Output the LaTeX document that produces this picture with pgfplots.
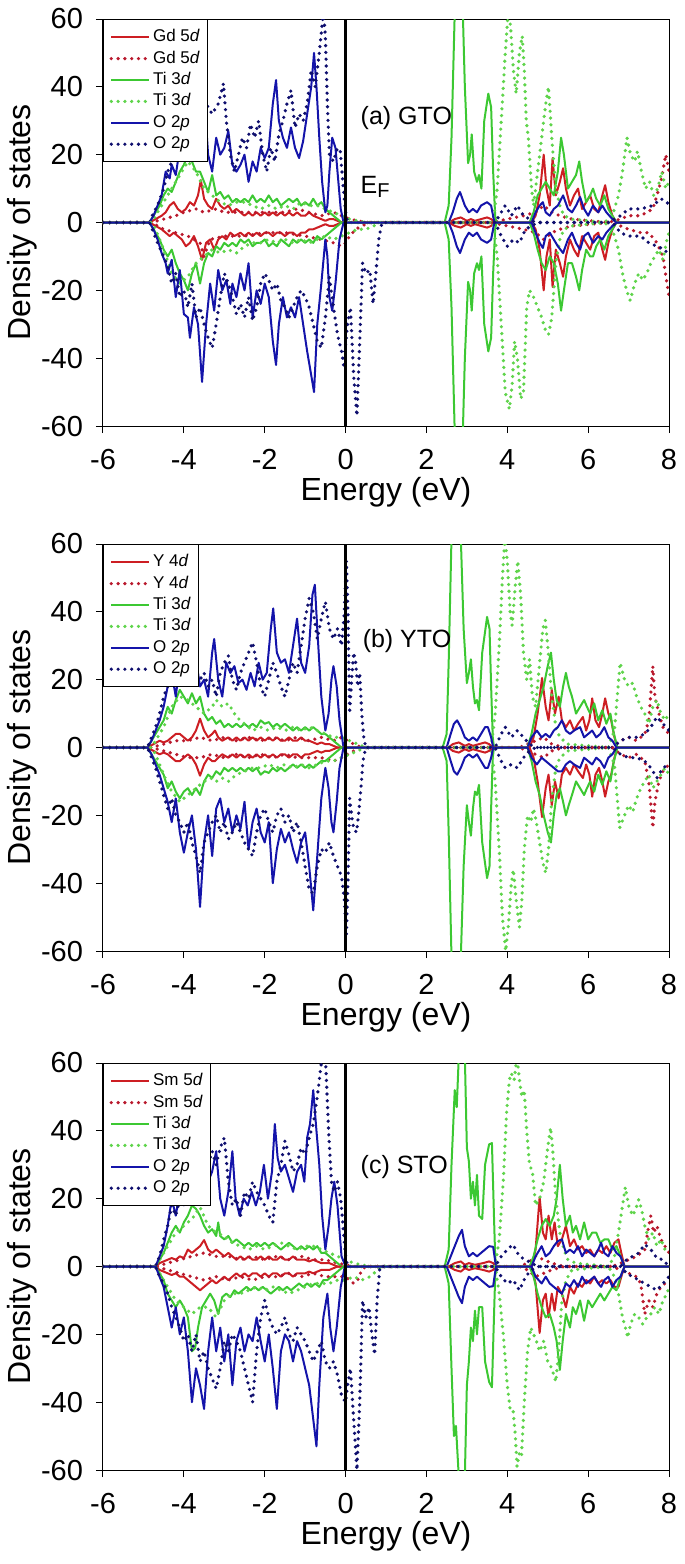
\documentclass[border=0pt]{standalone}
\usepackage{fontspec}
\setmainfont{Liberation Sans}
\usepackage{pgfplots}
\pgfplotsset{compat=1.18}

\definecolor{rsol}{RGB}{205,30,35}
\definecolor{rdot}{RGB}{185,25,45}
\definecolor{gsol}{RGB}{60,200,50}
\definecolor{gdot}{RGB}{95,212,75}
\definecolor{bsol}{RGB}{20,20,170}
\definecolor{bdot}{RGB}{15,15,110}

\tikzset{
  solidc/.style={line width=1pt, line join=round},
  dotc/.style={line width=1.8pt, line cap=round, dash pattern=on 0pt off 3.4pt},
}

\pgfplotsset{
  dos/.style={
    width=283pt, height=203.5pt, scale only axis,
    xmin=-6, xmax=8, ymin=-60, ymax=60,
    xtick={-6,-4,-2,0,2,4,6,8}, ytick={-60,-40,-20,0,20,40,60},
    xticklabels={-6,-4,-2,0,2,4,6,8}, yticklabels={-60,-40,-20,0,20,40,60},
    tick align=outside, xtick pos=left, ytick pos=left,
    major tick length=3.5pt,
    tick style={black, line width=0.5pt},
    axis line style={black, line width=0.5pt},
    ticklabel style={font=\fontsize{14.5}{16}\selectfont},
    xticklabel style={yshift=-4.5pt},
    yticklabel style={xshift=-3pt},
    xlabel={Energy (eV)}, ylabel={Density of states},
    label style={font=\fontsize{16}{19}\selectfont},
    xlabel style={at={(axis description cs:0.5,-0.162)}, anchor=center},
    ylabel style={at={(axis description cs:-0.143,0.5)}, anchor=center},
    legend cell align=left,
    legend style={at={(0,1)}, anchor=north west, draw=black, line width=0.5pt,
      fill=white, font=\fontsize{8.5}{10}\selectfont,
      inner xsep=3pt, inner ysep=3.5pt, row sep=0pt,
      nodes={inner sep=1pt, text height=6.6pt, text depth=2.1pt}},
    legend image code/.code={\draw[##1] (0pt,0pt) -- (19pt,0pt);},
  },
}

\begin{document}
\begin{tikzpicture}

% ---------------- (a) GTO ----------------
\begin{axis}[dos, at={(0,0)}, anchor=north west]
\addplot[rsol, solidc] coordinates {(-6,0) (-4.85,0) (-4.7,1) (-4.55,2) (-4.45,3) (-4.35,5) (-4.25,6) (-4.15,4) (-4.05,3) (-3.95,4) (-3.85,6) (-3.75,5) (-3.65,8) (-3.58,12.5) (-3.5,7) (-3.4,5) (-3.3,4) (-3.2,7) (-3.1,5) (-3,4) (-2.9,5) (-2.8,3) (-2.7,4) (-2.6,3) (-2.5,2) (-2.4,3) (-2.3,2) (-2.2,3) (-2.1,2) (-2,3) (-1.9,2) (-1.8,3) (-1.7,2) (-1.6,3) (-1.5,2) (-1.4,3) (-1.3,2) (-1.2,3) (-1.1,2) (-1,2) (-0.9,3) (-0.8,2) (-0.7,1.5) (-0.6,1) (-0.5,0.5) (-0.4,1) (-0.3,1) (-0.2,0.5) (-0.1,0) (2.55,0) (2.7,1) (2.85,1.5) (3,0.5) (3.1,1) (3.2,0.5) (3.35,1) (3.5,1.5) (3.6,1) (3.7,0) (4.6,0) (4.7,2) (4.8,8) (4.9,20) (4.97,10) (5.05,5) (5.12,19) (5.2,8) (5.3,12) (5.38,16) (5.45,10) (5.55,5) (5.65,8) (5.75,10) (5.85,4) (5.95,6) (6.05,8) (6.15,4) (6.25,3) (6.35,8) (6.42,11) (6.5,6) (6.6,2) (6.7,0) (8,0)};
\addlegendentry{Gd 5\textit{d}}
\addplot[rdot, dotc] coordinates {(-6,0) (-4.8,0) (-4.5,1) (-4.2,2) (-4,3) (-3.7,4) (-3.5,3) (-3.2,4) (-3,3) (-2.5,3) (-2,3) (-1.5,3) (-1.2,4) (-0.9,3) (-0.6,2) (-0.3,3) (-0.1,2) (0.1,1) (0.3,0.5) (0.5,0) (3.6,0) (4,1) (4.4,2) (4.7,3) (4.9,5) (5.1,3) (5.3,2) (5.6,1) (6.5,0) (6.8,1) (7,2) (7.3,2) (7.6,4) (7.8,12) (7.92,20) (8,15)};
\addlegendentry{Gd 5\textit{d}}
\addplot[gsol, solidc] coordinates {(-6,0) (-4.85,0) (-4.7,3) (-4.6,5) (-4.5,8) (-4.4,10) (-4.3,9) (-4.2,12) (-4.1,15) (-4,17) (-3.9,20) (-3.8,18) (-3.7,15) (-3.6,15) (-3.5,12) (-3.4,9) (-3.3,14) (-3.2,8) (-3.1,9) (-3,7) (-2.9,8) (-2.8,6) (-2.7,7) (-2.6,6) (-2.5,7) (-2.4,6) (-2.3,8) (-2.2,6) (-2.1,7) (-2,6) (-1.9,8) (-1.8,6) (-1.7,7) (-1.6,5) (-1.5,6) (-1.4,7) (-1.3,6) (-1.2,7) (-1.1,5) (-1,6) (-0.9,5) (-0.8,7) (-0.7,5) (-0.6,6) (-0.5,4) (-0.4,3) (-0.3,2) (-0.2,1) (-0.1,0) (2.45,0) (2.55,5) (2.62,25) (2.7,62) (2.8,75) (2.9,62) (2.95,40) (3.03,17.5) (3.08,20) (3.12,26) (3.18,15) (3.25,12) (3.3,14) (3.36,10) (3.43,30) (3.53,38) (3.6,34) (3.65,15) (3.7,2) (3.73,0) (4.55,0) (4.65,3) (4.75,8) (4.85,10) (4.95,12) (5.05,10) (5.15,8) (5.25,15) (5.33,25) (5.4,20) (5.5,10) (5.6,12) (5.7,14) (5.78,18) (5.85,12) (5.95,6) (6.05,8) (6.12,10) (6.2,7) (6.3,5) (6.4,8) (6.5,4) (6.6,2) (6.7,0) (8,0)};
\addlegendentry{Ti 3\textit{d}}
\addplot[gdot, dotc] coordinates {(-6,0) (-4.8,0) (-4.7,2) (-4.5,6) (-4.3,10) (-4.1,14) (-3.9,18) (-3.7,15) (-3.5,10) (-3.3,8) (-3.1,6) (-2.9,5) (-2.7,6) (-2.5,6) (-2.3,5) (-2.1,4) (-1.9,5) (-1.7,4) (-1.5,5) (-1.3,4) (-1.1,6) (-0.9,5) (-0.7,5) (-0.5,4) (-0.3,3) (-0.1,2) (0.1,1) (0.3,0.5) (0.5,0) (3.65,0) (3.75,10) (3.85,30) (3.95,50) (4.02,62) (4.08,58) (4.15,45) (4.22,38) (4.3,50) (4.37,55) (4.42,45) (4.47,30) (4.52,25) (4.6,10) (4.65,5) (4.75,15) (4.85,25) (4.95,35) (5.02,40) (5.1,25) (5.2,10) (5.3,5) (5.4,2) (5.6,1) (6.4,0) (6.6,2) (6.75,8) (6.85,15) (6.96,25) (7.05,20) (7.15,18) (7.22,21) (7.32,15) (7.42,10) (7.52,12) (7.62,8) (7.72,10) (7.82,15) (7.92,10) (8,12)};
\addlegendentry{Ti 3\textit{d}}
\addplot[bsol, solidc] coordinates {(-6,0) (-4.85,0) (-4.75,2) (-4.65,5) (-4.55,8) (-4.45,15) (-4.35,13) (-4.3,17) (-4.2,14) (-4.1,22) (-4,25) (-3.9,30) (-3.8,25) (-3.7,35) (-3.6,28) (-3.5,38) (-3.4,20) (-3.3,15) (-3.2,25) (-3.1,20) (-3,22) (-2.9,27) (-2.8,17) (-2.7,15) (-2.6,17) (-2.5,20) (-2.4,12) (-2.3,18) (-2.2,15) (-2.1,22) (-2,19) (-1.9,22) (-1.8,35) (-1.72,42) (-1.65,30) (-1.55,25) (-1.45,22) (-1.35,28) (-1.25,22) (-1.15,19) (-1.05,24) (-0.95,32) (-0.85,40) (-0.78,50) (-0.72,40) (-0.65,25) (-0.58,12) (-0.5,3) (-0.45,5) (-0.4,15) (-0.33,25) (-0.25,22) (-0.2,15) (-0.12,4) (-0.05,0) (2.55,0) (2.65,3) (2.75,7) (2.83,9) (2.95,5) (3.05,3) (3.15,4) (3.25,3) (3.35,5) (3.5,6) (3.6,5) (3.68,0) (4.6,0) (4.7,3) (4.8,5) (4.88,6) (4.95,3) (5.05,2) (5.15,4) (5.25,5) (5.38,8) (5.5,4) (5.6,3) (5.7,5) (5.8,7.5) (5.9,4) (6,2) (6.12,5) (6.25,3) (6.35,5) (6.45,3) (6.6,1) (6.7,0) (8,0)};
\addlegendentry{O 2\textit{p}}
\addplot[bdot, dotc] coordinates {(-6,0) (-4.85,0) (-4.75,3) (-4.65,5) (-4.5,10) (-4.4,15) (-4.3,18) (-4.2,20) (-4.1,25) (-3.95,24) (-3.8,28) (-3.6,30) (-3.45,35) (-3.3,32) (-3.15,35) (-3.02,41) (-2.95,30) (-2.85,20) (-2.75,15) (-2.65,20) (-2.55,25) (-2.45,22) (-2.35,29) (-2.25,25) (-2.15,30) (-2.05,20) (-1.95,15) (-1.85,22) (-1.75,18) (-1.65,26) (-1.55,30) (-1.45,35) (-1.35,39) (-1.25,28) (-1.15,32) (-1.05,30) (-0.95,35) (-0.85,45) (-0.75,40) (-0.65,50) (-0.55,62) (-0.5,55) (-0.45,35) (-0.4,20) (-0.3,18) (-0.2,22) (-0.13,21) (-0.07,12) (0,3) (0.05,0) (3.7,0) (3.85,3) (3.95,5) (4.1,2) (4.25,5) (4.4,2) (4.55,1) (4.7,0) (6.5,0) (6.8,2) (7,4) (7.3,4) (7.6,5) (7.8,7) (7.95,6) (8,5)};
\addlegendentry{O 2\textit{p}}
% spin down
\addplot[rsol, solidc, forget plot] coordinates {(-6,0) (-4.85,0) (-4.7,-1) (-4.55,-2) (-4.45,-3) (-4.35,-4) (-4.25,-3) (-4.15,-4) (-4.05,-5) (-3.95,-7) (-3.85,-6) (-3.75,-4) (-3.65,-7) (-3.55,-11) (-3.45,-6) (-3.35,-5) (-3.25,-8) (-3.15,-5) (-3.05,-4) (-2.95,-5) (-2.85,-3) (-2.75,-4) (-2.6,-3) (-2.5,-4) (-2.4,-3) (-2.3,-4) (-2.2,-3) (-2.1,-4) (-2,-3) (-1.9,-3) (-1.8,-4) (-1.7,-3) (-1.6,-3) (-1.5,-4) (-1.4,-3) (-1.3,-3) (-1.2,-4) (-1.1,-3) (-1,-3) (-0.9,-2) (-0.8,-2) (-0.7,-1.5) (-0.6,-1) (-0.5,-0.5) (-0.4,-1) (-0.3,-1) (-0.2,-0.5) (-0.1,0) (2.55,0) (2.7,-1) (2.85,-1.5) (3,-0.5) (3.1,-1) (3.2,-0.5) (3.35,-1) (3.5,-1.5) (3.6,-1) (3.7,0) (4.6,0) (4.7,-2) (4.8,-8) (4.9,-20) (4.97,-10) (5.05,-5) (5.12,-19) (5.2,-8) (5.3,-12) (5.38,-16) (5.45,-10) (5.55,-5) (5.65,-8) (5.75,-10) (5.85,-4) (5.95,-6) (6.05,-8) (6.15,-4) (6.25,-3) (6.35,-8) (6.42,-11) (6.5,-6) (6.6,-2) (6.7,0) (8,0)};
\addplot[rdot, dotc, forget plot] coordinates {(-6,0) (-4.8,0) (-4.5,-2) (-4.2,-3) (-3.9,-4) (-3.6,-6) (-3.5,-10) (-3.35,-5) (-3,-4) (-2.5,-4) (-2,-3) (-1.5,-3) (-1,-4) (-0.6,-5) (-0.3,-6) (-0.1,-7) (0,-6) (0.1,-4) (0.25,-2) (0.4,-1) (0.6,0) (3.6,0) (4,-1) (4.4,-2) (4.7,-3) (4.9,-5) (5.1,-3) (5.3,-2) (5.6,-1) (6.5,0) (6.8,-1) (7,-2) (7.3,-3) (7.5,-3) (7.7,-6) (7.85,-10) (7.95,-18) (8,-22)};
\addplot[gsol, solidc, forget plot] coordinates {(-6,0) (-4.85,0) (-4.7,-3) (-4.6,-5) (-4.5,-8) (-4.4,-10) (-4.3,-8) (-4.2,-12) (-4.1,-15) (-4,-17) (-3.9,-20) (-3.8,-15) (-3.7,-12) (-3.6,-18) (-3.5,-12) (-3.4,-9) (-3.3,-10) (-3.2,-7) (-3.1,-8) (-3,-6) (-2.9,-7) (-2.8,-6) (-2.7,-7) (-2.6,-5) (-2.5,-6) (-2.4,-5) (-2.3,-7) (-2.2,-6) (-2.1,-6) (-2,-5) (-1.9,-7) (-1.8,-6) (-1.7,-7) (-1.6,-5) (-1.5,-6) (-1.4,-7) (-1.3,-5) (-1.2,-6) (-1.1,-5) (-1,-6) (-0.9,-5) (-0.8,-6) (-0.7,-4) (-0.6,-5) (-0.5,-4) (-0.4,-3) (-0.3,-2) (-0.2,-1) (-0.1,0) (2.45,0) (2.55,-5) (2.62,-25) (2.7,-62) (2.8,-75) (2.9,-62) (2.95,-40) (3.03,-17.5) (3.08,-20) (3.12,-26) (3.18,-15) (3.25,-12) (3.3,-14) (3.36,-10) (3.43,-30) (3.53,-38) (3.6,-34) (3.65,-15) (3.7,-2) (3.73,0) (4.55,0) (4.65,-3) (4.75,-8) (4.85,-12) (4.95,-14) (5.05,-10) (5.15,-12) (5.25,-18) (5.33,-26) (5.4,-20) (5.5,-12) (5.6,-12) (5.7,-16) (5.78,-20) (5.85,-14) (5.95,-8) (6.05,-10) (6.12,-10) (6.2,-7) (6.3,-5) (6.4,-8) (6.5,-4) (6.6,-2) (6.7,0) (8,0)};
\addplot[gdot, dotc, forget plot] coordinates {(-6,0) (-4.8,0) (-4.7,-2) (-4.5,-8) (-4.3,-15) (-4.1,-18) (-3.9,-16) (-3.7,-12) (-3.5,-10) (-3.3,-8) (-3.1,-9) (-2.9,-8) (-2.7,-9) (-2.5,-7) (-2.3,-6) (-2.1,-6) (-1.9,-5) (-1.7,-6) (-1.5,-5) (-1.3,-6) (-1.1,-5) (-0.9,-6) (-0.7,-5) (-0.5,-4) (-0.3,-5) (-0.1,-4) (0.1,-3) (0.3,-2) (0.5,-2) (0.7,-1) (0.85,0) (3.65,0) (3.75,-10) (3.85,-30) (3.95,-50) (4.05,-55) (4.12,-48) (4.18,-35) (4.25,-40) (4.33,-52) (4.4,-50) (4.48,-25) (4.55,-20) (4.65,-22) (4.75,-25) (4.85,-28) (4.95,-32) (5.02,-33) (5.1,-28) (5.2,-12) (5.3,-5) (5.4,-2) (5.6,-1) (6.4,0) (6.6,-2) (6.75,-8) (6.85,-15) (6.95,-20) (7.04,-23) (7.15,-18) (7.25,-15) (7.35,-17) (7.45,-15) (7.55,-12) (7.65,-10) (7.75,-8) (7.85,-11) (7.95,-5) (8,-3)};
\addplot[bsol, solidc, forget plot] coordinates {(-6,0) (-4.85,0) (-4.75,-2) (-4.65,-5) (-4.55,-9) (-4.45,-12) (-4.4,-15) (-4.3,-11) (-4.2,-22) (-4.1,-14) (-4,-27) (-3.9,-28) (-3.85,-34) (-3.75,-25) (-3.65,-30) (-3.55,-47) (-3.45,-30) (-3.35,-18) (-3.25,-26) (-3.15,-14) (-3.05,-20) (-2.95,-17) (-2.85,-24) (-2.8,-18) (-2.7,-22) (-2.6,-15) (-2.5,-20) (-2.4,-12) (-2.3,-28) (-2.2,-20) (-2.1,-24) (-2,-18) (-1.9,-22) (-1.8,-35) (-1.72,-42) (-1.65,-30) (-1.55,-22) (-1.45,-28) (-1.35,-25) (-1.25,-28) (-1.15,-22) (-1.05,-30) (-0.95,-38) (-0.85,-45) (-0.78,-50) (-0.7,-30) (-0.6,-18) (-0.5,-5) (-0.45,-10) (-0.4,-22) (-0.33,-26) (-0.25,-18) (-0.15,-5) (-0.05,0) (2.55,0) (2.65,-3) (2.75,-7) (2.83,-9) (2.95,-5) (3.05,-3) (3.15,-4) (3.25,-3) (3.35,-5) (3.5,-6) (3.6,-5) (3.68,0) (4.6,0) (4.7,-3) (4.8,-6) (4.88,-7.5) (4.95,-4) (5.05,-3) (5.15,-5) (5.25,-7) (5.38,-9) (5.5,-5) (5.6,-3) (5.7,-6) (5.8,-8) (5.9,-4) (6,-3) (6.12,-6) (6.25,-4) (6.35,-5) (6.45,-3) (6.6,-1) (6.7,0) (8,0)};
\addplot[bdot, dotc, forget plot] coordinates {(-6,0) (-4.85,0) (-4.75,-3) (-4.65,-6) (-4.5,-10) (-4.4,-13) (-4.3,-18) (-4.2,-15) (-4.1,-22) (-4,-20) (-3.9,-25) (-3.8,-18) (-3.7,-28) (-3.6,-25) (-3.5,-30) (-3.4,-34) (-3.3,-37) (-3.2,-30) (-3.1,-22) (-3,-15) (-2.9,-18) (-2.8,-22) (-2.7,-27) (-2.6,-24) (-2.5,-28) (-2.4,-22) (-2.3,-29) (-2.2,-25) (-2.1,-18) (-2,-15) (-1.9,-17) (-1.8,-20) (-1.7,-18) (-1.6,-23) (-1.5,-25) (-1.4,-28) (-1.3,-25) (-1.2,-22) (-1.1,-20) (-1,-22) (-0.9,-25) (-0.8,-30) (-0.7,-35) (-0.6,-37) (-0.5,-28) (-0.4,-16) (-0.3,-25) (-0.2,-33) (-0.1,-38) (-0.05,-42) (0.05,-30) (0.12,-25) (0.2,-45) (0.28,-57) (0.35,-35) (0.42,-12) (0.5,-15) (0.6,-14) (0.68,-24) (0.75,-15) (0.82,-5) (0.9,0) (3.7,0) (3.85,-4) (4,-7) (4.15,-5) (4.3,-6) (4.45,-2) (4.6,-1) (4.75,0) (6.6,0) (6.8,-3) (7,-4) (7.3,-4) (7.5,-6) (7.7,-7) (7.9,-8) (8,-10)};
\addplot[black, line width=1.1pt, forget plot] coordinates {(0,-60) (0,60)};
\node[anchor=west, font=\fontsize{12.5}{15}\selectfont] at (axis cs:0.2,30.8) {(a) GTO};
\node[anchor=west, font=\fontsize{12.5}{15}\selectfont] at (axis cs:0.2,10.5) {E\raisebox{-0.3ex}{\fontsize{10}{12}\selectfont F}};
\end{axis}

% ---------------- (b) YTO ----------------
\begin{axis}[dos, at={(0,-262.5pt)}, anchor=north west]
\addplot[rsol, solidc] coordinates {(-6,0) (-4.9,0) (-4.75,1) (-4.6,2) (-4.5,1.5) (-4.4,2) (-4.3,3) (-4.2,4) (-4.1,4) (-4,3) (-3.9,2) (-3.8,3) (-3.7,5) (-3.6,8.5) (-3.5,5) (-3.4,3) (-3.3,4) (-3.23,5) (-3.15,3) (-3.05,2) (-2.9,3) (-2.8,2) (-2.7,3) (-2.6,2) (-2.5,3) (-2.4,2) (-2.3,3) (-2.2,2) (-2.1,3) (-2,2) (-1.9,3) (-1.8,2) (-1.7,3) (-1.6,2) (-1.5,2) (-1.4,3) (-1.3,2) (-1.2,2) (-1.1,3) (-1,2) (-0.9,2) (-0.8,1.5) (-0.7,1) (-0.6,1.5) (-0.5,1) (-0.4,1) (-0.3,0.5) (-0.2,0) (2.55,0) (2.65,1) (2.8,1.5) (2.95,0.5) (3.05,1) (3.15,0.5) (3.3,1) (3.45,1.5) (3.55,1) (3.65,0) (4.55,0) (4.65,3) (4.75,10) (4.86,20.5) (4.95,12) (5.02,8) (5.1,17) (5.18,10) (5.27,15) (5.35,8) (5.45,6) (5.55,8) (5.65,5) (5.75,7) (5.87,9) (5.95,5) (6.03,8) (6.1,14.5) (6.18,8) (6.27,6) (6.35,10) (6.42,14.5) (6.5,10) (6.57,8) (6.65,3) (6.72,0) (8,0)};
\addlegendentry{Y 4\textit{d}}
\addplot[rdot, dotc] coordinates {(-6,0) (-4.8,0) (-4.5,1) (-4.2,2) (-3.9,2) (-3.6,3) (-3.3,2) (-3,3) (-2.7,2) (-2.4,3) (-2.1,2) (-1.8,3) (-1.5,2) (-1.2,3) (-0.9,2) (-0.6,3) (-0.3,2) (-0.1,3) (0.05,2) (0.2,1) (0.4,0) (4.3,0) (4.5,1) (4.7,2) (4.9,3) (5.1,1) (5.4,0) (6.6,0) (6.8,2) (7,3) (7.2,2) (7.4,4) (7.5,8) (7.6,24) (7.65,15) (7.75,10) (7.85,6) (8,4)};
\addlegendentry{Y 4\textit{d}}
\addplot[gsol, solidc] coordinates {(-6,0) (-4.9,0) (-4.8,2) (-4.7,4) (-4.6,6) (-4.5,8) (-4.4,12) (-4.3,10) (-4.2,14) (-4.1,17) (-4,15) (-3.9,13) (-3.8,16) (-3.7,13) (-3.6,15) (-3.5,10) (-3.4,8) (-3.3,9) (-3.2,7) (-3.1,8) (-3,6) (-2.9,7) (-2.8,6) (-2.7,7) (-2.6,6) (-2.5,7) (-2.4,6) (-2.3,7) (-2.2,6) (-2.1,8) (-2,7) (-1.9,7.5) (-1.8,6) (-1.7,7) (-1.6,6) (-1.5,7) (-1.4,6) (-1.3,5) (-1.2,6) (-1.1,5) (-1,6) (-0.9,5) (-0.8,6) (-0.7,5) (-0.6,4) (-0.5,4) (-0.4,3) (-0.3,2) (-0.2,1) (-0.1,0) (2.4,0) (2.5,4) (2.55,25) (2.62,62) (2.75,75) (2.85,62) (2.92,35) (3.0,19) (3.05,22) (3.1,26) (3.15,18) (3.2,13) (3.25,14) (3.3,11) (3.38,28) (3.5,38.5) (3.56,35) (3.6,18) (3.64,3) (3.67,0) (4.5,0) (4.6,4) (4.7,10) (4.8,14) (4.9,18) (5.0,24) (5.08,28) (5.15,20) (5.22,14) (5.3,12) (5.38,18) (5.45,22) (5.52,18) (5.6,15) (5.7,10) (5.8,12) (5.9,14) (5.97,12) (6.05,10) (6.15,13) (6.25,8) (6.35,11) (6.45,7) (6.55,10) (6.62,5) (6.72,0) (8,0)};
\addlegendentry{Ti 3\textit{d}}
\addplot[gdot, dotc] coordinates {(-6,0) (-4.8,0) (-4.7,2) (-4.5,6) (-4.3,12) (-4.1,15) (-3.9,14) (-3.7,12) (-3.5,10) (-3.3,12) (-3.2,14) (-3.05,12) (-2.9,13) (-2.7,9) (-2.5,7) (-2.3,5) (-2.1,6) (-1.9,5) (-1.7,6) (-1.5,5) (-1.3,6) (-1.1,5) (-0.9,6) (-0.7,5) (-0.5,4) (-0.3,3) (-0.1,3) (0.1,2) (0.3,1) (0.5,0) (3.6,0) (3.7,10) (3.8,30) (3.88,50) (3.94,62) (4.0,55) (4.07,40) (4.12,36) (4.2,48) (4.26,55) (4.33,45) (4.4,28) (4.48,20) (4.55,26) (4.62,15) (4.7,12) (4.8,25) (4.88,35) (4.94,37.5) (5.0,30) (5.1,15) (5.2,6) (5.3,3) (5.5,1) (6.5,0) (6.65,5) (6.72,15) (6.79,25) (6.9,20) (7.0,18) (7.1,19) (7.2,15) (7.3,12) (7.4,10) (7.5,7) (7.6,12) (7.7,14) (7.8,10) (7.9,8) (8,10)};
\addlegendentry{Ti 3\textit{d}}
\addplot[bsol, solidc] coordinates {(-6,0) (-4.9,0) (-4.8,2) (-4.7,5) (-4.6,8) (-4.5,12) (-4.4,18) (-4.3,22) (-4.2,15) (-4.1,25) (-4,20) (-3.9,28) (-3.8,22) (-3.7,26) (-3.6,18) (-3.5,20) (-3.4,15) (-3.3,28) (-3.25,32) (-3.15,20) (-3.05,15) (-2.95,25) (-2.85,22) (-2.75,24) (-2.65,19) (-2.55,20) (-2.45,17) (-2.35,22) (-2.25,18) (-2.15,25) (-2.05,20) (-1.95,22) (-1.85,35) (-1.79,41) (-1.7,28) (-1.6,25) (-1.5,26) (-1.4,22) (-1.3,30) (-1.2,38) (-1.1,25) (-1,22) (-0.9,30) (-0.82,45) (-0.76,48) (-0.7,35) (-0.6,15) (-0.5,5) (-0.42,10) (-0.35,20) (-0.3,24) (-0.22,18) (-0.15,8) (-0.05,0) (2.5,0) (2.6,4) (2.68,7) (2.76,8) (2.85,6) (2.95,3) (3.05,2) (3.15,3) (3.25,2) (3.35,4) (3.45,6) (3.52,6) (3.6,3) (3.65,0) (4.5,0) (4.6,3) (4.73,5) (4.85,3) (4.95,4) (5.05,3) (5.15,5) (5.25,6) (5.35,8) (5.45,5) (5.55,4) (5.65,5) (5.8,6) (5.9,3) (6,4) (6.1,5) (6.2,3) (6.3,4) (6.4,6) (6.5,3) (6.6,2) (6.7,0) (8,0)};
\addlegendentry{O 2\textit{p}}
\addplot[bdot, dotc] coordinates {(-6,0) (-4.9,0) (-4.8,3) (-4.7,6) (-4.6,10) (-4.5,15) (-4.4,18) (-4.3,20) (-4.2,22) (-4,25) (-3.8,22) (-3.6,20) (-3.5,22) (-3.4,18) (-3.3,20) (-3.2,15) (-3.1,22) (-3,25) (-2.9,27) (-2.8,20) (-2.7,17) (-2.6,22) (-2.5,25) (-2.4,28) (-2.3,31) (-2.2,25) (-2.1,18) (-2,15) (-1.9,20) (-1.8,25) (-1.7,22) (-1.6,18) (-1.5,15) (-1.4,20) (-1.3,25) (-1.2,22) (-1.1,30) (-1,38) (-0.9,44) (-0.8,40) (-0.7,32) (-0.6,38) (-0.5,43) (-0.4,35) (-0.3,32) (-0.2,35) (-0.1,30) (-0.03,40) (0.02,55) (0.06,40) (0.1,10) (0.15,20) (0.2,28) (0.25,25) (0.3,18) (0.35,22) (0.4,10) (0.45,3) (0.5,0) (3.7,0) (3.85,4) (3.95,6) (4.1,3) (4.25,5) (4.4,3) (4.55,1) (4.7,0) (6.6,0) (6.8,2) (7,3) (7.2,3) (7.4,4) (7.55,6) (7.7,9) (7.85,7) (8,5)};
\addlegendentry{O 2\textit{p}}
% spin down
\addplot[rsol, solidc, forget plot] coordinates {(-6,0) (-4.9,0) (-4.75,-1) (-4.6,-2) (-4.5,-1.5) (-4.4,-2) (-4.3,-3) (-4.2,-4) (-4.1,-4) (-4,-3) (-3.9,-2) (-3.8,-3) (-3.7,-5) (-3.6,-8.3) (-3.5,-5) (-3.4,-3) (-3.3,-4) (-3.23,-4) (-3.15,-3) (-3.05,-2) (-2.9,-3) (-2.8,-2) (-2.7,-3) (-2.6,-2) (-2.5,-3) (-2.4,-2) (-2.3,-3) (-2.2,-2) (-2.1,-3) (-2,-2) (-1.9,-3) (-1.8,-2) (-1.7,-3) (-1.6,-2) (-1.5,-2) (-1.4,-3) (-1.3,-2) (-1.2,-2) (-1.1,-3) (-1,-2) (-0.9,-2) (-0.8,-1.5) (-0.7,-1) (-0.6,-1.5) (-0.5,-1) (-0.4,-1) (-0.3,-0.5) (-0.2,0) (2.55,0) (2.65,-1) (2.8,-1.5) (2.95,-0.5) (3.05,-1) (3.15,-0.5) (3.3,-1) (3.45,-1.5) (3.55,-1) (3.65,0) (4.55,0) (4.65,-3) (4.75,-10) (4.86,-20.5) (4.95,-12) (5.02,-8) (5.1,-17) (5.18,-10) (5.27,-15) (5.35,-8) (5.45,-6) (5.55,-8) (5.65,-5) (5.75,-7) (5.87,-9) (5.95,-5) (6.03,-8) (6.1,-14.5) (6.18,-8) (6.27,-6) (6.35,-10) (6.42,-14.5) (6.5,-10) (6.57,-8) (6.65,-3) (6.72,0) (8,0)};
\addplot[rdot, dotc, forget plot] coordinates {(-6,0) (-4.8,0) (-4.5,-1) (-4.2,-2) (-3.9,-3) (-3.6,-3) (-3.3,-2) (-3,-3) (-2.7,-2) (-2.4,-3) (-2.1,-2) (-1.8,-3) (-1.5,-2) (-1.2,-3) (-0.9,-3) (-0.6,-3) (-0.3,-4) (-0.1,-3) (0.05,-2) (0.2,-1) (0.4,0) (4.3,0) (4.5,-1) (4.7,-2) (4.9,-3) (5.1,-1) (5.4,0) (6.6,0) (6.8,-2) (7,-3) (7.2,-2) (7.4,-4) (7.5,-10) (7.6,-23.7) (7.65,-16) (7.75,-10) (7.85,-7) (8,-5)};
\addplot[gsol, solidc, forget plot] coordinates {(-6,0) (-4.9,0) (-4.8,-2) (-4.7,-4) (-4.6,-6) (-4.5,-8) (-4.4,-12) (-4.3,-10) (-4.2,-13) (-4.1,-15) (-4,-13) (-3.9,-12) (-3.8,-14) (-3.7,-12) (-3.6,-14) (-3.5,-10) (-3.4,-8) (-3.3,-9) (-3.2,-7) (-3.1,-8) (-3,-6) (-2.9,-7) (-2.8,-6) (-2.7,-7) (-2.6,-6) (-2.5,-7) (-2.4,-6) (-2.3,-7) (-2.2,-6) (-2.1,-8) (-2,-7) (-1.9,-7.5) (-1.8,-6) (-1.7,-7) (-1.6,-6) (-1.5,-7) (-1.4,-6) (-1.3,-5) (-1.2,-6) (-1.1,-5) (-1,-6) (-0.9,-5) (-0.8,-6) (-0.7,-5) (-0.6,-4) (-0.5,-4) (-0.4,-3) (-0.3,-2) (-0.2,-1) (-0.1,0) (2.4,0) (2.5,-4) (2.55,-25) (2.62,-62) (2.75,-75) (2.85,-62) (2.92,-35) (3.0,-17) (3.05,-22) (3.1,-26) (3.15,-18) (3.2,-13) (3.25,-14) (3.3,-11) (3.38,-28) (3.5,-38.5) (3.56,-35) (3.6,-18) (3.64,-3) (3.67,0) (4.5,0) (4.6,-4) (4.7,-10) (4.8,-14) (4.9,-20) (5.0,-25) (5.08,-28) (5.15,-20) (5.22,-14) (5.3,-12) (5.38,-16) (5.45,-20) (5.52,-17) (5.6,-14) (5.7,-10) (5.8,-12) (5.9,-14) (5.97,-12) (6.05,-10) (6.15,-13) (6.25,-8) (6.35,-11) (6.45,-7) (6.55,-10) (6.62,-5) (6.72,0) (8,0)};
\addplot[gdot, dotc, forget plot] coordinates {(-6,0) (-4.8,0) (-4.7,-2) (-4.5,-8) (-4.3,-13) (-4.1,-16) (-3.9,-14) (-3.7,-12) (-3.5,-10) (-3.3,-9) (-3.2,-10) (-3.05,-9) (-2.9,-10) (-2.7,-8) (-2.5,-7) (-2.3,-6) (-2.1,-6) (-1.9,-5) (-1.7,-6) (-1.5,-5) (-1.3,-6) (-1.1,-5) (-0.9,-6) (-0.7,-5) (-0.5,-4) (-0.3,-4) (-0.1,-3) (0.1,-2) (0.3,-1) (0.5,0) (3.6,0) (3.7,-10) (3.8,-30) (3.88,-50) (3.96,-60) (4.03,-52) (4.1,-40) (4.15,-36) (4.22,-45) (4.3,-53) (4.36,-45) (4.42,-30) (4.5,-20) (4.58,-22) (4.65,-18) (4.72,-22) (4.8,-28) (4.88,-34) (4.95,-37) (5.02,-30) (5.1,-15) (5.2,-6) (5.3,-3) (5.5,-1) (6.5,0) (6.65,-5) (6.72,-15) (6.78,-23.7) (6.9,-20) (7.0,-17) (7.1,-19) (7.2,-15) (7.3,-12) (7.4,-10) (7.5,-8) (7.6,-12) (7.7,-10) (7.8,-8) (7.9,-6) (8,-8)};
\addplot[bsol, solidc, forget plot] coordinates {(-6,0) (-4.9,0) (-4.8,-2) (-4.7,-5) (-4.6,-8) (-4.5,-12) (-4.4,-16) (-4.3,-22) (-4.2,-15) (-4.1,-25) (-4,-31) (-3.9,-25) (-3.8,-20) (-3.7,-30) (-3.6,-47) (-3.5,-28) (-3.4,-20) (-3.3,-32) (-3.2,-18) (-3.1,-15) (-3,-22) (-2.9,-18) (-2.8,-25) (-2.7,-20) (-2.6,-24) (-2.5,-16) (-2.4,-30) (-2.3,-22) (-2.2,-18) (-2.1,-25) (-2,-28) (-1.9,-22) (-1.8,-40) (-1.7,-30) (-1.6,-24) (-1.5,-28) (-1.4,-25) (-1.3,-30) (-1.2,-34) (-1.1,-28) (-1,-25) (-0.9,-35) (-0.8,-48) (-0.7,-32) (-0.6,-15) (-0.5,-6) (-0.42,-12) (-0.35,-22) (-0.3,-25) (-0.22,-16) (-0.15,-6) (-0.05,0) (2.5,0) (2.6,-4) (2.68,-7) (2.76,-8) (2.85,-6) (2.95,-3) (3.05,-2) (3.15,-3) (3.25,-2) (3.35,-4) (3.45,-6) (3.52,-6) (3.6,-3) (3.65,0) (4.5,0) (4.6,-3) (4.73,-5) (4.85,-3) (4.95,-4) (5.05,-5) (5.15,-6) (5.25,-7) (5.35,-7) (5.45,-5) (5.55,-4) (5.65,-5) (5.8,-6) (5.9,-3) (6,-4) (6.1,-5) (6.2,-3) (6.3,-4) (6.4,-6) (6.5,-3) (6.6,-2) (6.7,0) (8,0)};
\addplot[bdot, dotc, forget plot] coordinates {(-6,0) (-4.9,0) (-4.8,-3) (-4.7,-6) (-4.6,-10) (-4.5,-14) (-4.4,-18) (-4.3,-15) (-4.2,-20) (-4.1,-22) (-4,-25) (-3.9,-22) (-3.8,-28) (-3.7,-32) (-3.6,-37) (-3.5,-28) (-3.4,-25) (-3.3,-22) (-3.2,-20) (-3.1,-25) (-3,-22) (-2.9,-27) (-2.8,-25) (-2.7,-22) (-2.6,-25) (-2.5,-28) (-2.4,-30) (-2.3,-32) (-2.2,-25) (-2.1,-20) (-2,-18) (-1.9,-22) (-1.8,-25) (-1.7,-20) (-1.6,-18) (-1.5,-22) (-1.4,-20) (-1.3,-25) (-1.2,-22) (-1.1,-28) (-1,-35) (-0.9,-42) (-0.8,-43) (-0.7,-35) (-0.6,-30) (-0.5,-31) (-0.4,-28) (-0.3,-32) (-0.2,-35) (-0.1,-38) (-0.03,-45) (0.02,-55) (0.06,-40) (0.1,-15) (0.15,-20) (0.2,-24) (0.27,-25) (0.32,-20) (0.38,-12) (0.43,-4) (0.5,0) (3.7,0) (3.85,-4) (3.95,-6) (4.1,-5) (4.25,-6) (4.4,-3) (4.55,-1) (4.7,0) (6.6,0) (6.8,-2) (7,-3) (7.2,-3) (7.4,-4) (7.55,-6) (7.7,-9) (7.85,-6) (8,-5)};
\addplot[black, line width=1.1pt, forget plot] coordinates {(0,-60) (0,60)};
\node[anchor=west, font=\fontsize{12.5}{15}\selectfont] at (axis cs:0.25,31.3) {(b) YTO};
\end{axis}

% ---------------- (c) STO ----------------
\begin{axis}[dos, at={(0,-522pt)}, anchor=north west]
\addplot[rsol, solidc] coordinates {(-6,0) (-4.7,0) (-4.6,1) (-4.5,1.5) (-4.4,2) (-4.3,2.5) (-4.2,2) (-4.1,3) (-4,2.5) (-3.9,5) (-3.8,4) (-3.7,5) (-3.6,6) (-3.5,7.8) (-3.4,5) (-3.3,4) (-3.2,5) (-3.1,4) (-3,3) (-2.9,4) (-2.8,3) (-2.7,2) (-2.6,3) (-2.5,2) (-2.4,3) (-2.3,2) (-2.2,2) (-2.1,3) (-2,2) (-1.9,3) (-1.8,2) (-1.7,2) (-1.6,3) (-1.5,2) (-1.4,2) (-1.3,3) (-1.2,2) (-1.1,2) (-1,2) (-0.9,1.5) (-0.8,2) (-0.7,1.5) (-0.6,1) (-0.5,1) (-0.4,1) (-0.3,0.5) (-0.2,0) (2.55,0) (2.7,1) (2.85,1.5) (2.95,0.5) (3.05,1) (3.2,0.5) (3.4,1) (3.55,1.5) (3.65,1) (3.72,0) (4.6,0) (4.7,5) (4.8,20.5) (4.88,10) (4.95,8) (5.02,15) (5.1,8) (5.17,13) (5.25,6) (5.35,8) (5.45,12) (5.55,6) (5.65,8) (5.75,5) (5.85,6) (5.95,4) (6.05,5) (6.15,3) (6.25,5) (6.35,4) (6.45,6) (6.55,4) (6.65,7) (6.75,8) (6.82,4) (6.9,0) (8,0)};
\addlegendentry{Sm 5\textit{d}}
\addplot[rdot, dotc] coordinates {(-6,0) (-4.7,0) (-4.4,1) (-4.1,2) (-3.8,3) (-3.5,4) (-3.2,3) (-2.9,3) (-2.6,2) (-2.3,3) (-2,2) (-1.7,3) (-1.4,2) (-1.1,3) (-0.8,2) (-0.5,2) (-0.2,1) (0,0.5) (0.2,0) (4.3,0) (4.5,1) (4.7,3) (4.9,2) (5.1,1) (5.4,0) (6.6,0) (6.8,1) (7.0,2) (7.2,3) (7.4,5) (7.5,12) (7.55,15) (7.62,10) (7.7,12) (7.8,8) (7.9,6) (8,4)};
\addlegendentry{Sm 5\textit{d}}
\addplot[gsol, solidc] coordinates {(-6,0) (-4.7,0) (-4.6,2) (-4.5,4) (-4.4,7) (-4.3,10) (-4.2,12) (-4.1,10) (-4,13) (-3.9,15) (-3.8,18) (-3.7,17) (-3.6,15) (-3.5,12) (-3.4,10) (-3.3,11) (-3.2,9) (-3.15,13) (-3.1,9) (-3,8) (-2.9,9) (-2.8,7) (-2.7,8) (-2.6,7) (-2.5,6) (-2.4,7) (-2.3,6) (-2.2,7) (-2.1,6) (-2,7) (-1.9,6) (-1.8,7) (-1.7,6) (-1.6,5) (-1.5,6) (-1.4,7) (-1.3,6) (-1.2,5) (-1.1,6) (-1,5) (-0.9,6) (-0.8,5) (-0.7,6) (-0.6,4) (-0.5,4) (-0.4,3) (-0.3,2) (-0.2,1) (-0.1,0) (2.45,0) (2.55,5) (2.62,30) (2.7,52) (2.75,47) (2.8,62) (2.88,75) (2.95,62) (3.0,35) (3.05,31) (3.1,20) (3.15,25) (3.2,18) (3.25,27) (3.3,15) (3.38,14) (3.45,30) (3.55,36) (3.62,36.4) (3.67,15) (3.7,3) (3.73,0) (4.55,0) (4.65,3) (4.75,8) (4.85,12) (4.95,14) (5.05,12) (5.15,15) (5.22,20) (5.3,30) (5.37,20) (5.45,12) (5.55,15) (5.62,10) (5.7,12) (5.8,8) (5.9,13) (6.0,8) (6.1,10) (6.2,10) (6.3,7) (6.4,8) (6.5,8) (6.6,5) (6.7,6) (6.8,3) (6.9,0) (8,0)};
\addlegendentry{Ti 3\textit{d}}
\addplot[gdot, dotc] coordinates {(-6,0) (-4.7,0) (-4.6,2) (-4.4,6) (-4.2,10) (-4,12) (-3.8,14) (-3.6,17.5) (-3.4,12) (-3.2,10) (-3,9) (-2.8,7) (-2.6,6) (-2.4,5) (-2.2,6) (-2,5) (-1.8,6) (-1.6,7) (-1.4,6) (-1.2,5) (-1,6) (-0.8,6) (-0.6,5) (-0.4,4) (-0.2,3) (0,2) (0.2,1) (0.4,0.5) (0.6,0) (3.7,0) (3.8,8) (3.9,25) (3.98,45) (4.05,55) (4.1,57) (4.17,55) (4.24,62) (4.3,55) (4.36,50) (4.42,52) (4.48,40) (4.55,30) (4.62,28) (4.7,18) (4.8,20) (4.9,25) (5.0,35) (5.07,41) (5.12,35) (5.2,20) (5.3,10) (5.4,5) (5.5,2) (5.7,1) (6.5,0) (6.65,3) (6.75,10) (6.85,18) (6.92,23.4) (7.0,18) (7.1,15) (7.18,17) (7.25,19.7) (7.32,17) (7.4,12) (7.5,8) (7.6,10) (7.7,6) (7.8,8) (7.9,5) (8,4)};
\addlegendentry{Ti 3\textit{d}}
\addplot[bsol, solidc] coordinates {(-6,0) (-4.7,0) (-4.6,3) (-4.5,6) (-4.4,12) (-4.3,20) (-4.2,15) (-4.1,22) (-4,18) (-3.9,25) (-3.8,20) (-3.7,28) (-3.6,22) (-3.5,30) (-3.4,25) (-3.3,28) (-3.2,34) (-3.1,20) (-3,15) (-2.9,22) (-2.8,34) (-2.72,20) (-2.62,15) (-2.52,20) (-2.42,18) (-2.32,22) (-2.22,18) (-2.12,22) (-2.02,30) (-1.92,20) (-1.82,28) (-1.75,42) (-1.68,32) (-1.6,28) (-1.5,30) (-1.4,26) (-1.3,22) (-1.2,28) (-1.1,30) (-1.02,25) (-0.95,38) (-0.88,42) (-0.8,52) (-0.72,40) (-0.65,30) (-0.58,15) (-0.5,5) (-0.42,12) (-0.35,20) (-0.28,25) (-0.2,18) (-0.1,3) (0,0) (2.5,0) (2.6,3) (2.7,6) (2.8,9) (2.88,10.8) (2.95,6) (3.05,3) (3.15,4) (3.25,3) (3.35,4) (3.45,5) (3.55,6) (3.65,5.8) (3.72,0) (4.6,0) (4.7,3) (4.85,6) (4.95,3) (5.05,4) (5.15,6) (5.25,7.5) (5.35,8) (5.45,4) (5.55,5) (5.65,4) (5.75,6) (5.85,3) (5.95,5) (6.05,4) (6.15,3) (6.25,5) (6.32,7) (6.4,4) (6.5,3) (6.6,6) (6.7,4) (6.8,3) (6.9,0) (8,0)};
\addlegendentry{O 2\textit{p}}
\addplot[bdot, dotc] coordinates {(-6,0) (-4.7,0) (-4.6,3) (-4.5,8) (-4.4,12) (-4.3,18) (-4.2,15) (-4.1,20) (-4,22) (-3.9,18) (-3.8,25) (-3.7,22) (-3.6,28) (-3.5,25) (-3.4,30) (-3.3,34) (-3.2,30) (-3.1,35) (-3,38) (-2.9,25) (-2.8,18) (-2.7,20) (-2.6,15) (-2.5,22) (-2.4,20) (-2.3,25) (-2.2,22) (-2.1,20) (-2,18) (-1.9,15) (-1.8,13) (-1.7,25) (-1.6,30) (-1.5,37) (-1.4,33) (-1.3,28) (-1.2,30) (-1.1,35) (-1,33) (-0.9,38) (-0.8,42) (-0.7,50) (-0.6,60) (-0.5,62) (-0.42,40) (-0.35,25) (-0.28,22) (-0.2,25) (-0.12,20) (-0.05,10) (0,3) (0.05,0) (3.7,0) (3.85,3) (4.0,5) (4.14,6.5) (4.3,3) (4.45,2) (4.6,1) (4.75,0) (6.8,0) (6.95,2) (7.1,3) (7.25,4) (7.4,6.5) (7.55,5) (7.7,2.5) (7.85,2) (8,0)};
\addlegendentry{O 2\textit{p}}
% spin down
\addplot[rsol, solidc, forget plot] coordinates {(-6,0) (-4.7,0) (-4.6,-1) (-4.5,-1.5) (-4.4,-2) (-4.3,-2.5) (-4.2,-2) (-4.1,-3) (-4,-3) (-3.9,-4) (-3.8,-5) (-3.7,-6) (-3.6,-7) (-3.5,-6) (-3.4,-5) (-3.3,-4) (-3.2,-5) (-3.1,-4) (-3,-3) (-2.9,-4) (-2.8,-3) (-2.7,-2) (-2.6,-3) (-2.5,-2) (-2.4,-3) (-2.3,-2) (-2.2,-2) (-2.1,-3) (-2,-2) (-1.9,-3) (-1.8,-2) (-1.7,-2) (-1.6,-3) (-1.5,-2) (-1.4,-2) (-1.3,-3) (-1.2,-2) (-1.1,-2) (-1,-2) (-0.9,-1.5) (-0.8,-2) (-0.7,-1.5) (-0.6,-1) (-0.5,-1) (-0.4,-1) (-0.3,-0.5) (-0.2,0) (2.55,0) (2.7,-1) (2.85,-1.5) (2.95,-0.5) (3.05,-1) (3.2,-0.5) (3.4,-1) (3.55,-1.5) (3.65,-1) (3.72,0) (4.6,0) (4.7,-5) (4.8,-19.6) (4.88,-10) (4.95,-8) (5.02,-15) (5.1,-8) (5.17,-13) (5.25,-6) (5.35,-8) (5.45,-12) (5.55,-6) (5.65,-8) (5.75,-5) (5.85,-6) (5.95,-4) (6.05,-5) (6.15,-3) (6.25,-5) (6.35,-4) (6.45,-5) (6.55,-4) (6.65,-6) (6.75,-6) (6.82,-3) (6.9,0) (8,0)};
\addplot[rdot, dotc, forget plot] coordinates {(-6,0) (-4.7,0) (-4.4,-1) (-4.1,-2) (-3.8,-3) (-3.5,-4) (-3.2,-3) (-2.9,-4) (-2.6,-3) (-2.3,-4) (-2,-3) (-1.7,-3) (-1.4,-2) (-1.1,-3) (-0.8,-2) (-0.5,-3) (-0.2,-3) (0,-3) (0.1,-4) (0.2,-5) (0.3,-4) (0.4,-1) (0.5,0) (4.3,0) (4.5,-1) (4.7,-3) (4.9,-2) (5.1,-1) (5.4,0) (6.6,0) (6.8,-1) (7.0,-2) (7.2,-3) (7.3,-5) (7.4,-14) (7.5,-10) (7.6,-12) (7.7,-8) (7.8,-6) (7.9,-5) (8,-5)};
\addplot[gsol, solidc, forget plot] coordinates {(-6,0) (-4.7,0) (-4.6,-2) (-4.5,-4) (-4.4,-8) (-4.3,-10) (-4.2,-12) (-4.1,-10) (-4,-12) (-3.9,-15) (-3.8,-25) (-3.72,-24) (-3.65,-18) (-3.55,-12) (-3.45,-10) (-3.35,-8) (-3.25,-10) (-3.15,-14) (-3.05,-9) (-2.95,-8) (-2.85,-9) (-2.75,-7) (-2.65,-8) (-2.55,-7) (-2.45,-6) (-2.35,-7) (-2.25,-6) (-2.15,-7) (-2.05,-6) (-1.95,-7) (-1.85,-8) (-1.75,-7) (-1.65,-6) (-1.55,-7) (-1.45,-6) (-1.35,-7) (-1.25,-6) (-1.15,-5) (-1.05,-6) (-0.95,-5) (-0.85,-6) (-0.75,-5) (-0.65,-6) (-0.55,-4) (-0.45,-4) (-0.35,-3) (-0.25,-2) (-0.15,-1) (-0.05,0) (2.45,0) (2.55,-5) (2.62,-30) (2.68,-50) (2.73,-47) (2.8,-62) (2.88,-75) (2.95,-62) (3.0,-35) (3.05,-28) (3.1,-18) (3.15,-22) (3.2,-13) (3.25,-20) (3.3,-12) (3.38,-12) (3.45,-28) (3.55,-34) (3.62,-35.6) (3.67,-15) (3.7,-3) (3.73,0) (4.55,0) (4.65,-3) (4.75,-8) (4.85,-12) (4.95,-15) (5.05,-14) (5.15,-18) (5.22,-22) (5.3,-30.5) (5.37,-22) (5.45,-14) (5.55,-18) (5.62,-12) (5.7,-14) (5.8,-10) (5.9,-16) (6.0,-10) (6.1,-12) (6.2,-10) (6.3,-8) (6.4,-10) (6.5,-8) (6.6,-6) (6.7,-7) (6.8,-3) (6.9,0) (8,0)};
\addplot[gdot, dotc, forget plot] coordinates {(-6,0) (-4.7,0) (-4.6,-2) (-4.4,-6) (-4.2,-10) (-4,-12) (-3.8,-14) (-3.6,-12) (-3.4,-12) (-3.2,-15) (-3,-10) (-2.8,-8) (-2.6,-8) (-2.4,-7) (-2.2,-6) (-2,-7) (-1.8,-6) (-1.6,-7) (-1.4,-8) (-1.2,-7) (-1,-6) (-0.8,-5) (-0.6,-5) (-0.4,-5) (-0.2,-4) (0,-4) (0.2,-3) (0.4,-4) (0.6,-3) (0.8,-1) (0.9,0) (3.7,0) (3.8,-8) (3.9,-20) (4.0,-35) (4.07,-42) (4.14,-42) (4.2,-50) (4.24,-59) (4.3,-55) (4.35,-56) (4.42,-40) (4.5,-25) (4.58,-18) (4.65,-20) (4.72,-22) (4.8,-25) (4.9,-22) (5.0,-28) (5.1,-30) (5.2,-34) (5.27,-25) (5.35,-10) (5.45,-4) (5.6,-1) (6.5,0) (6.65,-3) (6.75,-8) (6.85,-15) (6.92,-18) (6.98,-21) (7.05,-17) (7.15,-14) (7.25,-15) (7.35,-17) (7.45,-15) (7.55,-14) (7.65,-12) (7.75,-14) (7.85,-10) (7.95,-8) (8,-6)};
\addplot[bsol, solidc, forget plot] coordinates {(-6,0) (-4.7,0) (-4.6,-3) (-4.5,-6) (-4.4,-12) (-4.3,-18) (-4.2,-12) (-4.1,-20) (-4,-15) (-3.9,-25) (-3.8,-40) (-3.7,-30) (-3.6,-35) (-3.5,-42) (-3.4,-25) (-3.3,-15) (-3.2,-25) (-3.1,-18) (-3,-28) (-2.9,-20) (-2.8,-35) (-2.7,-22) (-2.6,-18) (-2.5,-25) (-2.4,-20) (-2.3,-22) (-2.2,-15) (-2.1,-22) (-2,-28) (-1.9,-20) (-1.8,-30) (-1.7,-42) (-1.6,-25) (-1.5,-20) (-1.4,-22) (-1.3,-28) (-1.2,-22) (-1.1,-25) (-1,-30) (-0.9,-35) (-0.8,-45) (-0.72,-53) (-0.65,-35) (-0.55,-15) (-0.45,-8) (-0.38,-18) (-0.3,-25) (-0.22,-18) (-0.12,-6) (-0.02,0) (2.5,0) (2.6,-3) (2.7,-6) (2.8,-9) (2.88,-10.8) (2.95,-6) (3.05,-3) (3.15,-4) (3.25,-3) (3.35,-4) (3.45,-5) (3.55,-6) (3.65,-5.8) (3.72,0) (4.6,0) (4.7,-3) (4.85,-5) (4.95,-3) (5.05,-5) (5.15,-6) (5.25,-7) (5.35,-8) (5.45,-5) (5.55,-6) (5.65,-4) (5.75,-6) (5.85,-3) (5.95,-5) (6.05,-4) (6.15,-3) (6.25,-5) (6.32,-6) (6.4,-4) (6.5,-3) (6.6,-6) (6.7,-4) (6.8,-3) (6.9,0) (8,0)};
\addplot[bdot, dotc, forget plot] coordinates {(-6,0) (-4.7,0) (-4.6,-3) (-4.5,-5) (-4.4,-8) (-4.3,-12) (-4.2,-15) (-4.1,-18) (-4,-22) (-3.9,-20) (-3.8,-25) (-3.7,-20) (-3.6,-28) (-3.5,-25) (-3.4,-30) (-3.3,-33) (-3.2,-36) (-3.1,-30) (-3,-22) (-2.9,-25) (-2.8,-20) (-2.7,-22) (-2.6,-25) (-2.5,-30) (-2.4,-35) (-2.3,-40) (-2.2,-25) (-2.1,-15) (-2,-10) (-1.9,-15) (-1.8,-18) (-1.7,-20) (-1.6,-18) (-1.5,-15) (-1.4,-20) (-1.3,-22) (-1.2,-18) (-1.1,-20) (-1,-22) (-0.9,-25) (-0.8,-28) (-0.7,-25) (-0.6,-22) (-0.5,-28) (-0.4,-30) (-0.3,-28) (-0.2,-32) (-0.1,-38) (0,-40) (0.05,-35) (0.12,-30) (0.2,-45) (0.28,-60) (0.35,-40) (0.42,-10) (0.5,-15) (0.58,-12) (0.65,-20) (0.72,-26) (0.78,-10) (0.85,0) (3.7,0) (3.85,-3) (4.0,-5) (4.15,-4) (4.3,-7) (4.45,-3) (4.6,-1) (4.75,0) (6.8,0) (6.95,-2) (7.1,-3) (7.25,-4) (7.4,-5) (7.55,-6) (7.7,-7) (7.85,-5) (8,-3)};
\addplot[black, line width=1.1pt, forget plot] coordinates {(0,-60) (0,60)};
\node[anchor=west, font=\fontsize{12.5}{15}\selectfont] at (axis cs:0.2,29.3) {(c) STO};
\end{axis}

\pgfresetboundingbox
\path (-51.5pt,9.5pt) rectangle (291pt,-772.5pt);
\end{tikzpicture}
\end{document}
